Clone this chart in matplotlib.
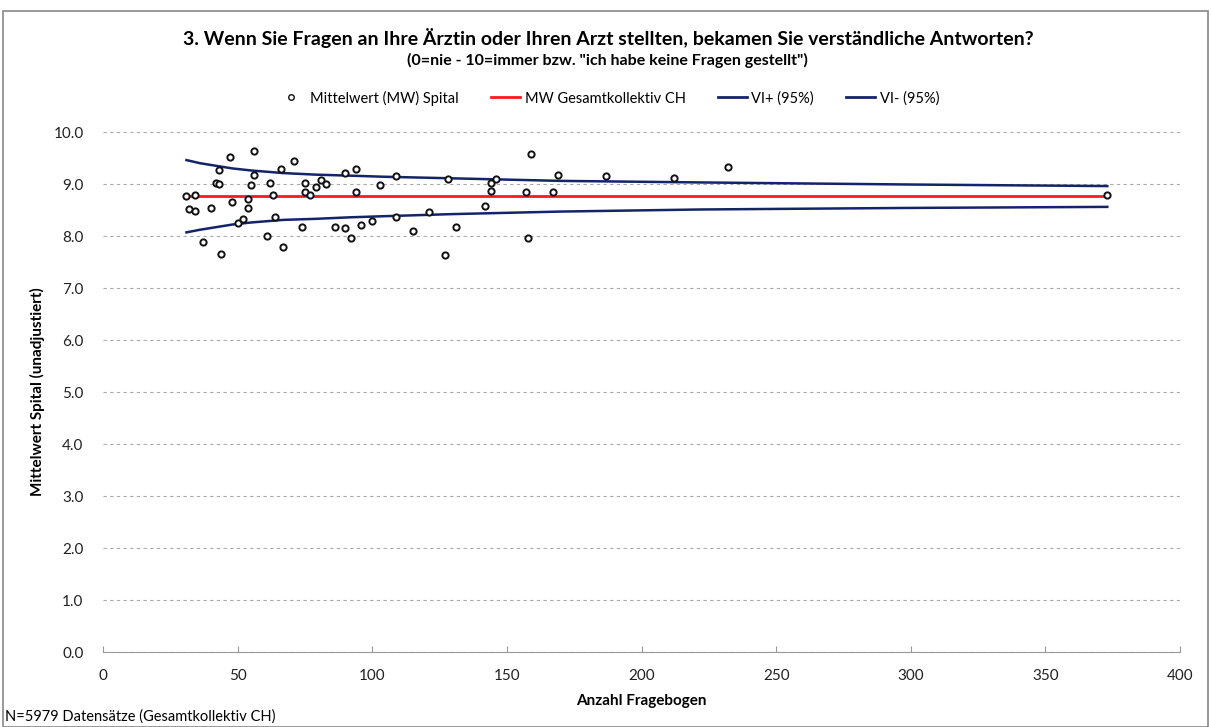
import matplotlib.pyplot as plt
from matplotlib.patches import Rectangle
from matplotlib.lines import Line2D

plt.rcParams['font.family'] = ['Lato', 'DejaVu Sans']

# Anzahl Fragebogen und Mittelwert pro Spital
n_fragebogen = [31, 34, 32, 34, 37, 40, 44, 43, 42, 43, 47, 48, 50, 52, 54, 54,
                55, 56, 56, 61, 62, 63, 64, 66, 67, 71, 74, 75, 75, 77, 79, 81,
                83, 86, 90, 90, 92, 94, 94, 96, 100, 103, 109, 109, 115, 121, 127,
                128, 131, 142, 144, 144, 146, 158, 157, 159, 167, 169, 187, 212,
                232, 373]
mw_spital = [8.76, 8.79, 8.51, 8.49, 7.88, 8.53, 7.66, 9.27, 9.01, 9.00, 9.51, 8.66,
             8.25, 8.33, 8.72, 8.54, 8.99, 9.17, 9.63, 8.00, 9.02, 8.78, 8.37, 9.29,
             7.79, 9.45, 8.17, 9.02, 8.85, 8.79, 8.95, 9.08, 9.00, 8.18, 9.22, 8.15,
             7.97, 9.29, 8.85, 8.21, 8.29, 8.99, 9.15, 8.37, 8.10, 8.47, 7.63, 9.10,
             8.18, 8.58, 8.87, 9.02, 9.10, 7.97, 8.85, 9.58, 8.85, 9.18, 9.15, 9.12,
             9.32, 8.79]

mw_ch = 8.77

# Vertrauensintervall
vi_n = [31, 36, 42, 48, 55, 67, 79, 92, 104, 129, 170, 222, 300, 373]
vi_plus = [9.46, 9.40, 9.35, 9.30, 9.26, 9.21, 9.18, 9.16, 9.14, 9.11, 9.06, 9.03, 8.99, 8.96]
vi_minus = [8.07, 8.12, 8.17, 8.22, 8.26, 8.31, 8.33, 8.36, 8.38, 8.42, 8.47, 8.51, 8.54, 8.56]

fig = plt.figure(figsize=(12.11, 7.27), dpi=100)
ax = fig.add_axes([103/1211, 1 - 652/727, (1180 - 103)/1211, (652 - 132)/727])

navy = '#14246a'
ax.plot(n_fragebogen, mw_spital, 'o', ms=4.5, mfc='white', mec='#111111', mew=1.4, zorder=5)
ax.plot([min(n_fragebogen), max(n_fragebogen)], [mw_ch, mw_ch], color='#ff1a1a', lw=2.0, zorder=3)
ax.plot(vi_n, vi_plus, color=navy, lw=1.8, zorder=3)
ax.plot(vi_n, vi_minus, color=navy, lw=1.8, zorder=3)

ax.set_xlim(0, 400)
ax.set_ylim(0, 10)
ax.set_xticks(range(0, 401, 50))
ax.set_yticks(range(0, 11))
ax.set_yticklabels(['%.1f' % v for v in range(0, 11)])
ax.yaxis.grid(True, color='#aaaaaa', ls=(0, (3, 3)), lw=0.8)
ax.set_axisbelow(True)
for s in ['top', 'right', 'left']:
    ax.spines[s].set_visible(False)
ax.spines['bottom'].set_color('#999999')
ax.tick_params(axis='y', length=0, labelsize=11, pad=14, colors='#222222')
ax.tick_params(axis='x', direction='in', length=4, color='#999999', labelsize=11, pad=12, colors='#222222')
ax.tick_params(axis='x', colors='#999999', labelcolor='#222222')

ax.set_xlabel('Anzahl Fragebogen', fontsize=11, fontweight='bold', labelpad=8)
ax.set_ylabel('Mittelwert Spital (unadjustiert)', fontsize=11, fontweight='bold', labelpad=6)

fig.text(0.502, 1 - 38/727, '3. Wenn Sie Fragen an Ihre Ärztin oder Ihren Arzt stellten, bekamen Sie verständliche Antworten?',
         ha='center', va='center', fontsize=14, fontweight='bold')
fig.text(0.502, 1 - 60/727, '(0=nie - 10=immer bzw. "ich habe keine Fragen gestellt")',
         ha='center', va='center', fontsize=11.5, fontweight='bold')

handles = [
    Line2D([], [], ls='none', marker='o', ms=4, mfc='white', mec='#111111', mew=1.0),
    Line2D([], [], color='#ff1a1a', lw=2.0),
    Line2D([], [], color=navy, lw=2.0),
    Line2D([], [], color=navy, lw=2.0),
]
labels = ['Mittelwert (MW) Spital', 'MW Gesamtkollektiv CH', 'VI+ (95%)', 'VI- (95%)']
fig.legend(handles, labels, loc='center', bbox_to_anchor=(0.502, 1 - 98/727), ncol=4,
           frameon=False, fontsize=10.5, handlelength=2.0, handletextpad=0.3, columnspacing=2.2)

fig.text(5/1211, 1 - 717/727, 'N=5979 Datensätze (Gesamtkollektiv CH)', ha='left', va='center', fontsize=10.5)

fig.patches.append(Rectangle((3/1211, 0), 1 - 6/1211, 1 - 11/727, transform=fig.transFigure,
                             fill=False, ec='#888888', lw=1.2))

fig.savefig('out.png', dpi=100)
